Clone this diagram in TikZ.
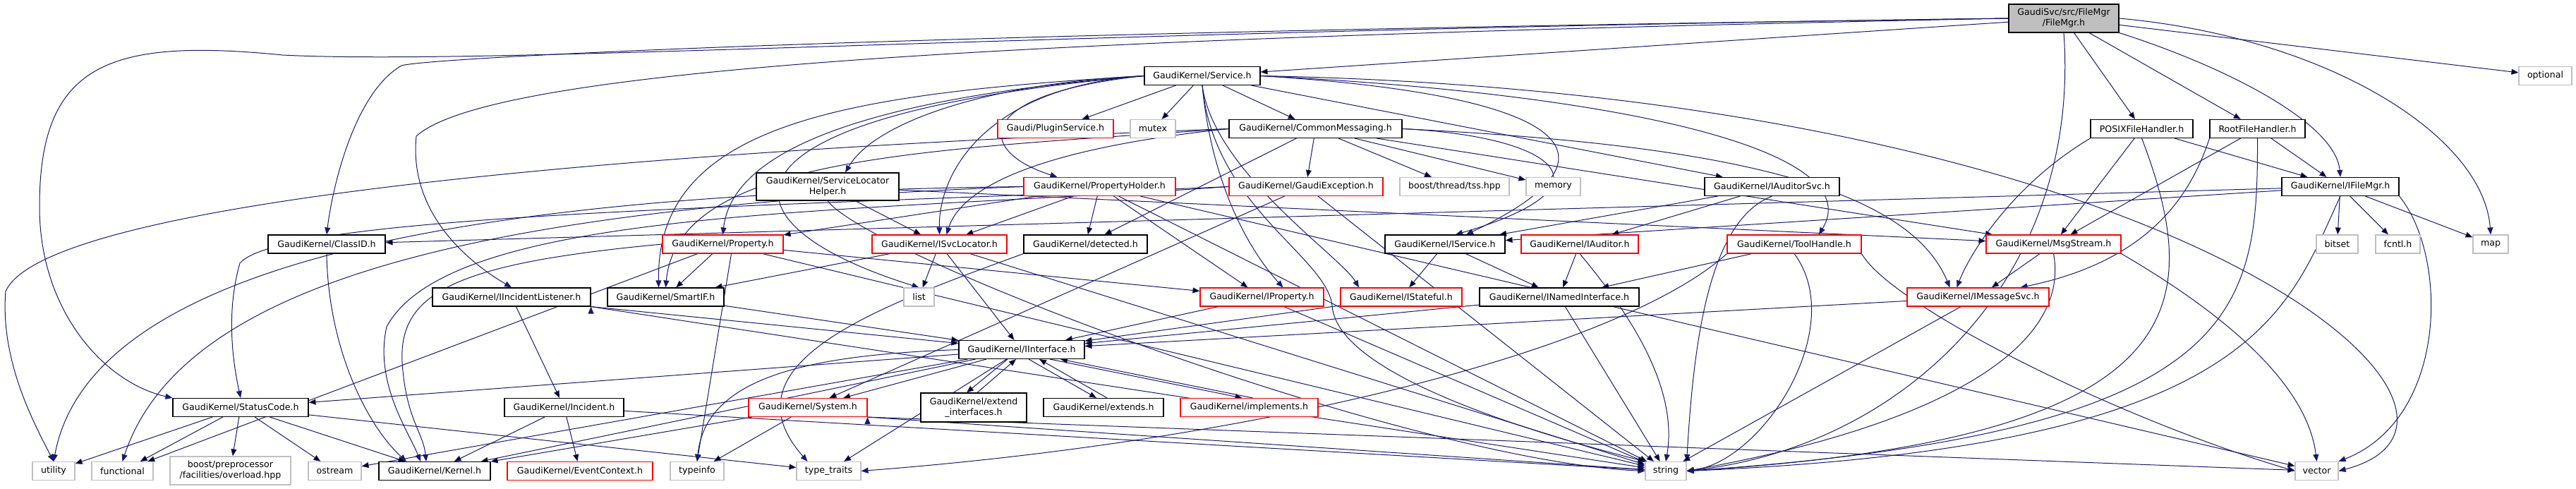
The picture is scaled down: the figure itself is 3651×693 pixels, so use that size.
\documentclass[tikz,border=0pt]{standalone}
\usepackage{fontspec}
\setmainfont{DejaVu Sans}
\usepackage{tikz}
\usetikzlibrary{arrows.meta,backgrounds}
\definecolor{depblue}{HTML}{191970}
\definecolor{sysgray}{HTML}{BFBFBF}
\definecolor{truncred}{HTML}{FF0000}
\tikzset{
  hdr/.style={draw=black, fill=white, line width=1.1pt, rectangle, inner xsep=3pt, inner ysep=1pt,
    minimum height=26pt, align=center, font=\fontsize{12.6}{15}\selectfont},
  trunc/.style={hdr, draw=truncred},
  sys/.style={hdr, draw=sysgray},
  topfile/.style={hdr, fill=sysgray},
  dep/.style={draw=depblue, line width=1pt, -{Triangle[length=10pt,width=8pt]}},
}
\begin{document}
\begin{tikzpicture}[x=1pt, y=1pt]
    \useasboundingbox (0,0) rectangle (3651,693);

    % top
    \node[topfile, minimum width=156pt, minimum height=40pt] (filemgr) at (2925,667) {GaudiSvc/src/FileMgr\\/FileMgr.h};
    \node[hdr, minimum width=164pt] (service) at (1704,585.5) {GaudiKernel/Service.h};
    \node[sys, minimum width=75pt] (optional) at (3607.5,585.5) {optional};

    \node[trunc, minimum width=164pt] (pluginsvc) at (1496,510.5) {Gaudi/PluginService.h};
    \node[sys, minimum width=64pt] (mutex) at (1634,510.5) {mutex};
    \node[hdr, minimum width=245pt] (commonmsg) at (1864.5,510.5) {GaudiKernel/CommonMessaging.h};
    \node[hdr, minimum width=145pt] (posix) at (3035.5,510.5) {POSIXFileHandler.h};
    \node[hdr, minimum width=135pt] (roothandler) at (3199.5,510.5) {RootFileHandler.h};

    \node[hdr, minimum width=202pt, minimum height=39pt] (svclochelper) at (1173,428.5) {GaudiKernel/ServiceLocator\\Helper.h};
    \node[trunc, minimum width=215pt] (propholder) at (1558.5,428.5) {GaudiKernel/PropertyHolder.h};
    \node[trunc, minimum width=218pt] (gaudiexc) at (1851,428.5) {GaudiKernel/GaudiException.h};
    \node[sys, minimum width=155pt] (tss) at (2061.5,428.5) {boost/thread/tss.hpp};
    \node[sys, minimum width=77pt] (memory) at (2201.5,428.5) {memory};
    \node[hdr, minimum width=191pt] (iauditorsvc) at (2511.5,428.5) {GaudiKernel/IAuditorSvc.h};
    \node[hdr, minimum width=166pt] (ifilemgr) at (3317,428.5) {GaudiKernel/IFileMgr.h};

    \node[hdr, minimum width=166pt] (classid) at (463,347) {GaudiKernel/ClassID.h};
    \node[trunc, minimum width=171pt] (property) at (1024.5,347) {GaudiKernel/Property.h};
    \node[trunc, minimum width=191pt] (isvclocator) at (1331.5,347) {GaudiKernel/ISvcLocator.h};
    \node[hdr, minimum width=175pt] (detected) at (1538.5,347) {GaudiKernel/detected.h};
    \node[hdr, minimum width=170pt] (iservice) at (2048,347) {GaudiKernel/IService.h};
    \node[trunc, minimum width=166pt] (iauditor) at (2239,347) {GaudiKernel/IAuditor.h};
    \node[trunc, minimum width=190pt] (toolhandle) at (2543,347) {GaudiKernel/ToolHandle.h};
    \node[trunc, minimum width=191pt] (msgstream) at (2910.5,347) {GaudiKernel/MsgStream.h};
    \node[sys, minimum width=59pt] (bitset) at (3312.5,347) {bitset};
    \node[sys, minimum width=63pt] (fcntl) at (3398.5,347) {fcntl.h};
    \node[sys, minimum width=50pt] (map) at (3530,347) {map};

    \node[hdr, minimum width=224pt] (iincidentlistener) at (725,272) {GaudiKernel/IIncidentListener.h};
    \node[hdr, minimum width=165pt] (smartif) at (943.5,272) {GaudiKernel/SmartIF.h};
    \node[sys, minimum width=43pt] (list) at (1302.5,272) {list};
    \node[trunc, minimum width=175pt] (iproperty) at (1788.5,272) {GaudiKernel/IProperty.h};
    \node[trunc, minimum width=172pt] (istateful) at (1986,272) {GaudiKernel/IStateful.h};
    \node[hdr, minimum width=226pt] (inamedinterface) at (2210,272) {GaudiKernel/INamedInterface.h};
    \node[trunc, minimum width=201pt] (imessagesvc) at (2803.5,272) {GaudiKernel/IMessageSvc.h};

    \node[hdr, minimum width=178pt] (iinterface) at (1448,197.5) {GaudiKernel/IInterface.h};

    \node[hdr, minimum width=192pt] (statuscode) at (341,115.5) {GaudiKernel/StatusCode.h};
    \node[hdr, minimum width=169pt] (incident) at (799.5,115.5) {GaudiKernel/Incident.h};
    \node[trunc, minimum width=168pt] (system) at (1145,115.5) {GaudiKernel/System.h};
    \node[hdr, minimum width=150pt, minimum height=41pt] (extendif) at (1380,115.5) {GaudiKernel/extend\\\_interfaces.h};
    \node[hdr, minimum width=170pt] (extends) at (1564,115.5) {GaudiKernel/extends.h};
    \node[trunc, minimum width=195pt] (implements) at (1770.5,115.5) {GaudiKernel/implements.h};

    % bottom
    \node[sys, minimum width=60pt] (utility) at (76,25.5) {utility};
    \node[sys, minimum width=87pt] (functional) at (173.5,25.5) {functional};
    \node[sys, minimum width=171pt, minimum height=40pt] (boostpp) at (326.5,26) {boost/preprocessor\\/facilities/overload.hpp};
    \node[sys, minimum width=75pt] (ostream) at (474.5,25.5) {ostream};
    \node[hdr, minimum width=158pt] (kernel) at (616,25.5) {GaudiKernel/Kernel.h};
    \node[trunc, minimum width=206pt] (eventcontext) at (822,25.5) {GaudiKernel/EventContext.h};
    \node[sys, minimum width=76pt] (typeinfo) at (988,25.5) {typeinfo};
    \node[sys, minimum width=91pt] (typetraits) at (1174.5,25.5) {type\_traits};
    \node[sys, minimum width=58pt] (string) at (2361,25.5) {string};
    \node[sys, minimum width=61pt] (vector) at (3283.5,25.5) {vector};

    \begin{scope}[on background layer]
    % FileMgr.h
    \path[dep]
        (filemgr) edge (service)
        (filemgr) edge (optional)
        (filemgr) edge (posix)
        (filemgr) edge (roothandler);
    \draw[dep] (filemgr.south east) .. controls (3150,600) and (3310,520) .. (ifilemgr.north);
    \draw[dep] (filemgr.east) .. controls (3300,640) and (3520,500) .. (map.north);
    \draw[dep] (filemgr.west) .. controls (1500,650) and (700,600) .. (400,615)
        .. controls (150,640) and (56,600) .. (56,400)
        .. controls (56,250) and (150,150) .. (statuscode.north west);
    \draw[dep] (filemgr.west) .. controls (1200,645) and (600,610) .. (569,600)
        .. controls (500,560) and (470,420) .. (classid.north);
    \draw[dep] (filemgr.west) .. controls (1500,640) and (700,600) .. (590,500)
        .. controls (580,400) and (650,330) .. (iincidentlistener.north);
    \draw[dep] (filemgr.south) .. controls (2950,300) and (2700,60) .. (string.east);

    % Service.h
    \path[dep]
        (service) edge (pluginsvc)
        (service) edge (mutex)
        (service) edge (commonmsg)
        (service) edge (iauditorsvc);
    \draw[dep] (service.west) .. controls (1400,575) and (1240,520) .. ([xshift=25pt]svclochelper.north);
    \draw[dep] (service.east) .. controls (2300,560) and (2650,480) .. ([xshift=35pt]toolhandle.north);
    \draw[dep] (service.east) .. controls (2200,560) and (2330,480) .. ([xshift=30pt]iservice.north);
    \draw[dep] (service.south) .. controls (1720,450) and (1900,330) .. ([xshift=-60pt]istateful.north);
    \draw[dep] (service.south) .. controls (1715,450) and (1760,350) .. ([xshift=30pt]iproperty.north);
    \draw[dep] (service.south) .. controls (1720,400) and (1880,330) .. (1888,260)
        .. controls (1895,150) and (2250,60) .. (string.north west);
    \draw[dep] (service.east) .. controls (3100,560) and (3600,100) .. (vector.east);
    \draw[dep] (service.west) .. controls (1300,560) and (1040,500) .. (property.north);
    \draw[dep] (service.west) .. controls (1200,560) and (930,520) .. ([xshift=-10pt]smartif.north);
    \draw[dep] (service.west) .. controls (1000,530) and (1000,380) .. (list.north);
    \draw[dep] (service.west) .. controls (1380,560) and (1380,480) .. ([xshift=-60pt]propholder.north);
    \draw[dep] (service.west) .. controls (1400,570) and (1330,450) .. (isvclocator.north);

    % CommonMessaging.h
    \path[dep]
        (commonmsg) edge (gaudiexc)
        (commonmsg) edge (tss)
        (commonmsg) edge (memory)
        (commonmsg) edge (msgstream)
        (commonmsg) edge (detected);
    \draw[dep] (commonmsg.east) .. controls (2400,490) and (2700,440) .. ([xshift=-40pt]imessagesvc.north);
    \draw[dep] (commonmsg.east) .. controls (2200,500) and (2300,430) .. ([xshift=15pt]iservice.north);
    \draw[dep] (commonmsg.west) .. controls (1300,480) and (960,470) .. (smartif.north);
    \draw[dep] (commonmsg.west) .. controls (1450,480) and (1360,420) .. ([xshift=10pt]isvclocator.north);
    \draw[dep] (commonmsg.west) .. controls (800,475) and (60,400) .. (8,280)
        .. controls (0,180) and (50,90) .. (utility.north);

    % ServiceLocatorHelper.h
    \path[dep]
        (svclochelper) edge (isvclocator)
        (svclochelper) edge (msgstream);
    \draw[dep] (svclochelper.south) .. controls (1230,330) and (2000,40) .. (string.west);

    % PropertyHolder.h
    \path[dep]
        (propholder) edge (iproperty)
        (propholder) edge (property)
        (propholder) edge (detected)
        (propholder) edge (isvclocator)
        (propholder) edge (string)
        (propholder) edge (vector);
    \draw[dep] (propholder.west) .. controls (700,420) and (130,330) .. (utility.north);
    \draw[dep] (propholder.west) .. controls (700,400) and (260,300) .. (functional.north);

    % GaudiException.h
    \path[dep]
        (gaudiexc) edge (system)
        (gaudiexc) edge (string);
    \draw[dep] (gaudiexc.west) .. controls (1100,400) and (400,390) .. (340,320)
        .. controls (320,250) and (330,180) .. (statuscode.north);
    \draw[dep] (gaudiexc.west) .. controls (1200,390) and (640,400) .. (548,230)
        .. controls (530,150) and (580,80) .. ([xshift=-20pt]kernel.north);

    % IAuditorSvc.h, IFileMgr.h
    \path[dep]
        (iauditorsvc) edge (iservice)
        (iauditorsvc) edge (iauditor)
        (ifilemgr) edge (classid)
        (ifilemgr) edge (iservice)
        (ifilemgr) edge (bitset)
        (ifilemgr) edge (fcntl)
        (ifilemgr) edge (map);
    \draw[dep] (iauditorsvc.south) .. controls (2420,380) and (2400,200) .. (string.north east);
    \draw[dep] (ifilemgr.south) .. controls (3240,250) and (3200,60) .. (string.east);
    \draw[dep] (ifilemgr.south east) .. controls (3470,330) and (3470,100) .. (vector.north east);

    % file handlers
    \path[dep]
        (posix) edge (ifilemgr)
        (posix) edge (msgstream)
        (roothandler) edge (ifilemgr)
        (roothandler) edge (msgstream);
    \draw[dep] (posix.south west) .. controls (2850,430) and (2790,330) .. ([xshift=-30pt]imessagesvc.north);
    \draw[dep] (posix.south) .. controls (3130,250) and (3100,70) .. (string.east);
    \draw[dep] (roothandler.south west) .. controls (3100,400) and (3030,320) .. ([xshift=60pt]imessagesvc.north);
    \draw[dep] (roothandler.south) .. controls (3200,250) and (3180,80) .. (string.east);

    % row of ClassID.h
    \path[dep]
        (property) edge (smartif)
        (property) edge (iproperty)
        (property) edge (string)
        (property) edge (functional)
        (isvclocator) edge (list)
        (isvclocator) edge (iinterface)
        (isvclocator) edge (smartif)
        (isvclocator) edge (string)
        (iservice) edge (istateful)
        (iservice) edge (inamedinterface)
        (iauditor) edge (inamedinterface)
        (toolhandle) edge (inamedinterface)
        (msgstream) edge (imessagesvc);
    \draw[dep] ([xshift=12pt]property.south) -- (typeinfo.north);
    \draw[dep] (classid.south) .. controls (465,200) and (520,90) .. ([xshift=-40pt]kernel.north);
    \draw[dep] (iauditor.south) .. controls (2300,260) and (2380,150) .. (string.north);
    \draw[dep] (property.west) .. controls (650,320) and (565,280) .. (570,180)
        .. controls (575,100) and (600,80) .. ([xshift=-12pt]kernel.north);
    \draw[dep] (detected.south west) .. controls (1250,260) and (1020,180) .. ([xshift=-30pt]typetraits.north);
    \draw[dep] (toolhandle.south west) .. controls (2300,200) and (1800,70) .. (typetraits.east);
    \draw[dep] (toolhandle.south) .. controls (2620,230) and (2500,40) .. (string.east);
    \draw[dep] (toolhandle.south east) .. controls (2680,260) and (3000,100) .. (vector.west);
    \draw[dep] (msgstream.south) .. controls (2935,200) and (2750,90) .. (string.east);
    \draw[dep] (msgstream.south east) .. controls (3150,250) and (3270,150) .. (vector.north);

    % interfaces
    \path[dep]
        (iincidentlistener.south east) edge (iinterface)
        (iincidentlistener.south east) edge (string)
        (iincidentlistener) edge (incident)
        (smartif) edge (iinterface)
        (iproperty) edge (iinterface)
        (iproperty) edge (string)
        (istateful) edge (iinterface)
        (inamedinterface) edge (iinterface)
        (inamedinterface) edge (string)
        (imessagesvc) edge (iinterface)
        (imessagesvc) edge (string);

    % IInterface.h
    \path[dep]
        (iinterface) edge (statuscode)
        (iinterface) edge (kernel)
        (iinterface) edge (ostream)
        (iinterface) edge (typetraits)
        (iinterface) edge (system)
        ([xshift=-20pt]iinterface.south) edge ([xshift=-10pt]extendif.north)
        ([xshift=5pt]extendif.north) edge ([xshift=-8pt]iinterface.south)
        ([xshift=10pt]iinterface.south) edge ([xshift=-10pt]extends.north)
        ([xshift=5pt]extends.north) edge ([xshift=25pt]iinterface.south)
        ([xshift=40pt]iinterface.south) edge ([xshift=-10pt]implements.north)
        ([xshift=5pt]implements.north) edge ([xshift=55pt]iinterface.south);
    \draw[dep] (iinterface.west) .. controls (1150,190) and (1000,160) .. (typeinfo.north);

    % lower rows
    \path[dep]
        (statuscode) edge (utility)
        (statuscode) edge (functional)
        (statuscode) edge (boostpp)
        (statuscode) edge (ostream)
        (statuscode) edge (kernel)
        (statuscode) edge (typetraits)
        (incident) edge (kernel)
        (incident) edge (eventcontext)
        (incident) edge (string)
        (system) edge (kernel)
        (system) edge (typeinfo)
        (system.south east) edge (string)
        (system.south east) edge (vector);
    \end{scope}
\end{tikzpicture}
\end{document}
